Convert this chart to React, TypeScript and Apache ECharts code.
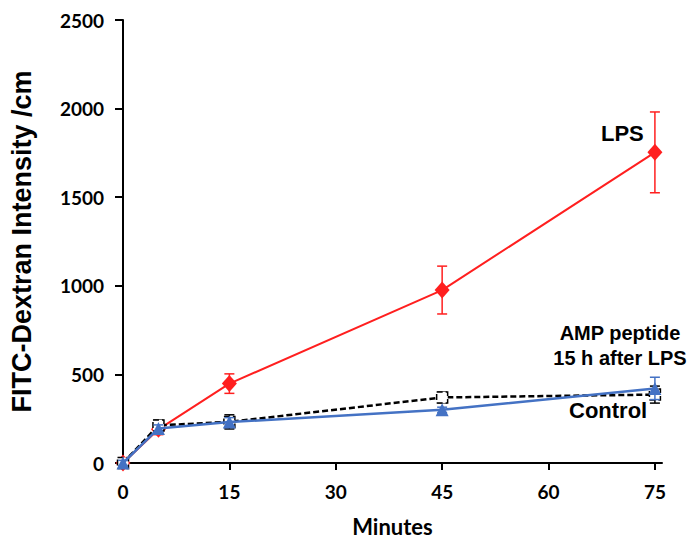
import React, { useEffect, useRef } from "react";
import * as echarts from "echarts";

const minutes = [0, 5, 15, 45, 75];
const xTicks = [0, 15, 30, 45, 60, 75];
const lps = [0, 190, 448, 976, 1753];
const lpsErr = [30, 30, 55, 135, 228];
const control = [0, 212, 232, 370, 386];
const controlErr = [20, 30, 40, 30, 48];
const amp = [0, 195, 231, 300, 421];
const ampErr = [15, 20, 25, 15, 63];

const RED = "#ff1f1f";
const BLUE = "#4472c4";
const BLACK = "#000000";
const TICK_FONT = "Lato";
const LABEL_FONT = "'Liberation Sans', Arial, sans-serif";

function pairs(ys: number[]) {
  return minutes.map((m, i) => [m, ys[i]]);
}
function errData(ys: number[], es: number[]) {
  return minutes.map((m, i) => [m, ys[i] - es[i], ys[i] + es[i]]);
}
function errSeries(ys: number[], es: number[], color: string, z: number) {
  return {
    type: "custom",
    z,
    silent: true,
    data: errData(ys, es),
    encode: { x: 0, y: [1, 2] },
    renderItem: (_p: any, api: any) => {
      const x = api.value(0);
      const lo = api.coord([x, api.value(1)]);
      const hi = api.coord([x, api.value(2)]);
      const w = 5;
      const st = { stroke: color, lineWidth: 1.5 };
      return {
        type: "group",
        children: [
          { type: "line", shape: { x1: lo[0], y1: lo[1], x2: hi[0], y2: hi[1] }, style: st },
          { type: "line", shape: { x1: lo[0] - w, y1: lo[1], x2: lo[0] + w, y2: lo[1] }, style: st },
          { type: "line", shape: { x1: hi[0] - w, y1: hi[1], x2: hi[0] + w, y2: hi[1] }, style: st },
        ],
      };
    },
  };
}

export default function App() {
  const ref = useRef<HTMLDivElement>(null);
  useEffect(() => {
    if (!ref.current) return;
    const chart = echarts.init(ref.current, null, { renderer: "svg" });
    const labelStyle = { fontFamily: LABEL_FONT, fontWeight: "bold", fontSize: 22, fill: "#000" };
    chart.setOption({
      animation: false,
      backgroundColor: "#ffffff",
      grid: { left: 122, top: 20, width: 540, height: 443, containLabel: false },
      xAxis: {
        type: "value",
        min: 0,
        max: 76,
        splitLine: { show: false },
        axisLine: { show: true, lineStyle: { color: BLACK, width: 2 } },
        axisTick: { show: true, customValues: xTicks, length: 7, lineStyle: { color: BLACK, width: 2 } },
        axisLabel: {
          customValues: xTicks,
          color: "#000",
          fontFamily: TICK_FONT,
          fontWeight: "bold",
          fontSize: 19,
          margin: 19,
        },
        name: "Minutes",
        nameLocation: "middle",
        nameGap: 52,
        nameTextStyle: { color: "#000", fontFamily: TICK_FONT, fontWeight: "bold", fontSize: 22 },
      },
      yAxis: {
        type: "value",
        min: 0,
        max: 2500,
        interval: 500,
        splitLine: { show: false },
        axisLine: { show: true, lineStyle: { color: BLACK, width: 2 } },
        axisTick: { show: true, length: 8, lineStyle: { color: BLACK, width: 2 } },
        axisLabel: {
          color: "#000",
          fontFamily: TICK_FONT,
          fontWeight: "bold",
          fontSize: 19,
          margin: 19,
          formatter: (v: number) => String(v),
        },
        name: "FITC-Dextran Intensity /cm",
        nameLocation: "middle",
        nameRotate: 90,
        nameGap: 88,
        nameTextStyle: { color: "#000", fontFamily: LABEL_FONT, fontWeight: "bold", fontSize: 27 },
      },
      series: [
        errSeries(lps, lpsErr, RED, 2),
        {
          type: "line",
          name: "LPS",
          z: 3,
          data: pairs(lps),
          symbol: "diamond",
          symbolSize: [15, 17],
          lineStyle: { color: RED, width: 2 },
          itemStyle: { color: RED },
        },
        errSeries(control, controlErr, BLACK, 4),
        {
          type: "line",
          name: "Control",
          z: 5,
          data: pairs(control),
          symbol: "rect",
          symbolSize: 11,
          lineStyle: { color: BLACK, width: 2.5, type: [6, 3] },
          itemStyle: { color: "#ffffff", borderColor: BLACK, borderWidth: 1.5, borderType: "dashed" },
        },
        errSeries(amp, ampErr, BLUE, 6),
        {
          type: "line",
          name: "AMP peptide 15 h after LPS",
          z: 7,
          data: pairs(amp),
          symbol: "triangle",
          symbolSize: 13,
          lineStyle: { color: BLUE, width: 2.5 },
          itemStyle: { color: BLUE },
        },
      ],
      graphic: [
        { type: "text", left: 601, top: 122, style: { ...labelStyle, text: "LPS" } },
        {
          type: "text",
          x: 620,
          y: 320,
          style: { ...labelStyle, fontSize: 20, text: "AMP peptide\n15 h after LPS", textAlign: "center", lineHeight: 25 },
        },
        { type: "text", left: 569, top: 399, style: { ...labelStyle, text: "Control" } },
      ],
    });
    return () => chart.dispose();
  }, []);
  return <div ref={ref} style={{ width: 695, height: 546, marginLeft: -8, marginTop: -8, background: "#fff" }} />;
}
